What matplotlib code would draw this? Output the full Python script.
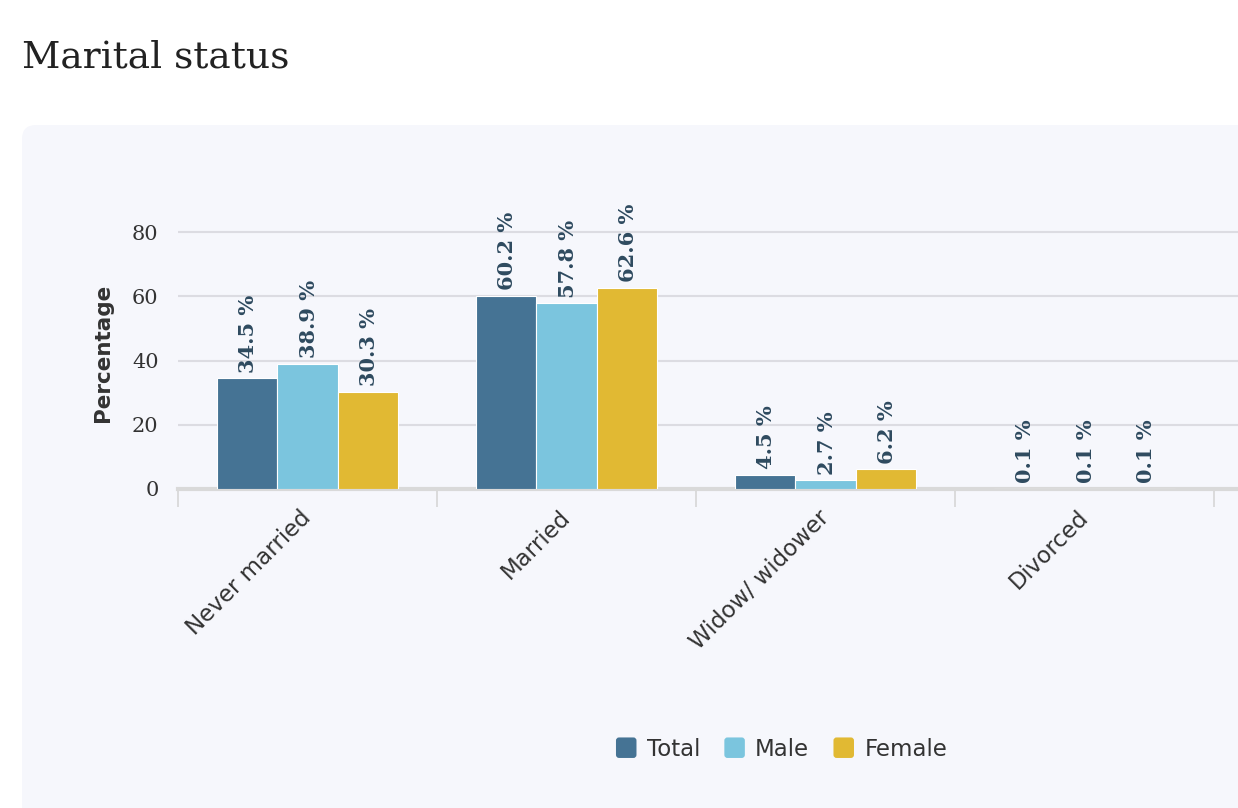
import numpy as np
import matplotlib
matplotlib.use("Agg")
import matplotlib.pyplot as plt
from matplotlib.patches import FancyBboxPatch, Patch
from matplotlib.legend_handler import HandlerPatch
from matplotlib.transforms import IdentityTransform, ScaledTranslation

categories = ["Never married", "Married", "Widow/ widower", "Divorced"]
series = ["Total", "Male", "Female"]
total = [34.5, 60.2, 4.5, 0.1]
male = [38.9, 57.8, 2.7, 0.1]
female = [30.3, 62.6, 6.2, 0.1]
colors = ["#457394", "#7bc5de", "#e1b933"]
yticks = [0, 20, 40, 60, 80]

W, H = 1238, 808
fig = plt.figure(figsize=(W / 100, H / 100), dpi=100)
fig.patch.set_facecolor("white")

# light panel behind the chart (runs off the right and bottom edges)
panel = FancyBboxPatch((22, -30), 1260, H - 125 + 30,
                       boxstyle="round,pad=0,rounding_size=14",
                       transform=IdentityTransform(), facecolor="#f6f7fc",
                       edgecolor="none", zorder=-5)
fig.patches.append(panel)

fig.text(22 / W, 1 - 57 / H, "Marital status", family="DejaVu Serif",
         fontsize=27, color="#222222", va="center", ha="left")

# axes placed in pixels: x from 178, 0 at y=489, 259px per category
cat_px = 259
left_px, right_px = 178, 1270
bottom_px = 489
ymax = 90
px_per_unit = 257 / 80
top_px = bottom_px - ymax * px_per_unit
ax = fig.add_axes([left_px / W, 1 - bottom_px / H,
                   (right_px - left_px) / W, (bottom_px - top_px) / H])
ax.set_facecolor("none")
ax.set_xlim(-0.5, -0.5 + (right_px - left_px) / cat_px)
ax.set_ylim(0, ymax)

x = np.arange(len(categories))
bw = 60.5 / cat_px
for i, (vals, name) in enumerate(zip([total, male, female], series)):
    bars = ax.bar(x + (i - 1) * bw, vals, bw, color=colors[i],
                  edgecolor="white", linewidth=0.8, zorder=3, label=name)
    for b, v in zip(bars, vals):
        ax.annotate(f"{v} %", (b.get_x() + b.get_width() / 2, v),
                    xytext=(1, 4), textcoords="offset points",
                    rotation=90, ha="center", va="bottom",
                    family="DejaVu Serif", fontweight="bold", fontsize=15,
                    color="#2e4a5f", zorder=5, annotation_clip=False)

ax.set_yticks(yticks)
ax.set_yticklabels([str(t) for t in yticks], family="DejaVu Serif",
                   fontsize=15, color="#333333")
ax.grid(axis="y", color="#dcdce2", linewidth=1.5, zorder=0)
ax.tick_params(axis="y", length=0, pad=14)

ax.set_xticks(x)
ax.set_xticklabels(categories, rotation=45, ha="right",
                   rotation_mode="anchor", family="DejaVu Sans", fontsize=16.5,
                   color="#333333")
ax.tick_params(axis="x", which="major", length=0, pad=12)
ax.set_xticks(np.arange(len(categories) + 1) - 0.5, minor=True)
ax.tick_params(axis="x", which="minor", length=13, width=1.2,
               color="#d6d6d6")
for lbl in ax.get_xticklabels():
    lbl.set_transform(lbl.get_transform() +
                      ScaledTranslation(-8 / 100, 0, fig.dpi_scale_trans))

for s in ["top", "right", "left"]:
    ax.spines[s].set_visible(False)
ax.spines["bottom"].set_color("#d9d9d9")
ax.spines["bottom"].set_linewidth(3)

fig.text(103 / W, 1 - 353 / H, "Percentage", rotation=90, ha="center",
         va="center", family="DejaVu Sans", fontweight="bold", fontsize=15.5,
         color="#333333")


class RoundHandler(HandlerPatch):
    def create_artists(self, legend, orig_handle, xdescent, ydescent,
                       width, height, fontsize, trans):
        s = min(width, height)
        p = FancyBboxPatch((-xdescent + (width - s) / 2, -ydescent + (height - s) / 2),
                           s, s, boxstyle="round,pad=0,rounding_size=%f" % (s * 0.15),
                           facecolor=orig_handle.get_facecolor(),
                           edgecolor="none", transform=trans)
        return [p]


handles = [Patch(facecolor=c, edgecolor="none", label=s)
           for c, s in zip(colors, series)]
fig.legend(handles=handles, loc="center", bbox_to_anchor=(781 / W, 1 - 749 / H),
           ncol=3, frameon=False, prop={"family": "DejaVu Sans", "size": 16.5},
           handlelength=1.0, handleheight=1.0, handletextpad=0.4,
           columnspacing=1.0, labelcolor="#333333",
           handler_map={Patch: RoundHandler()})

fig.savefig("out.png", dpi=100)
